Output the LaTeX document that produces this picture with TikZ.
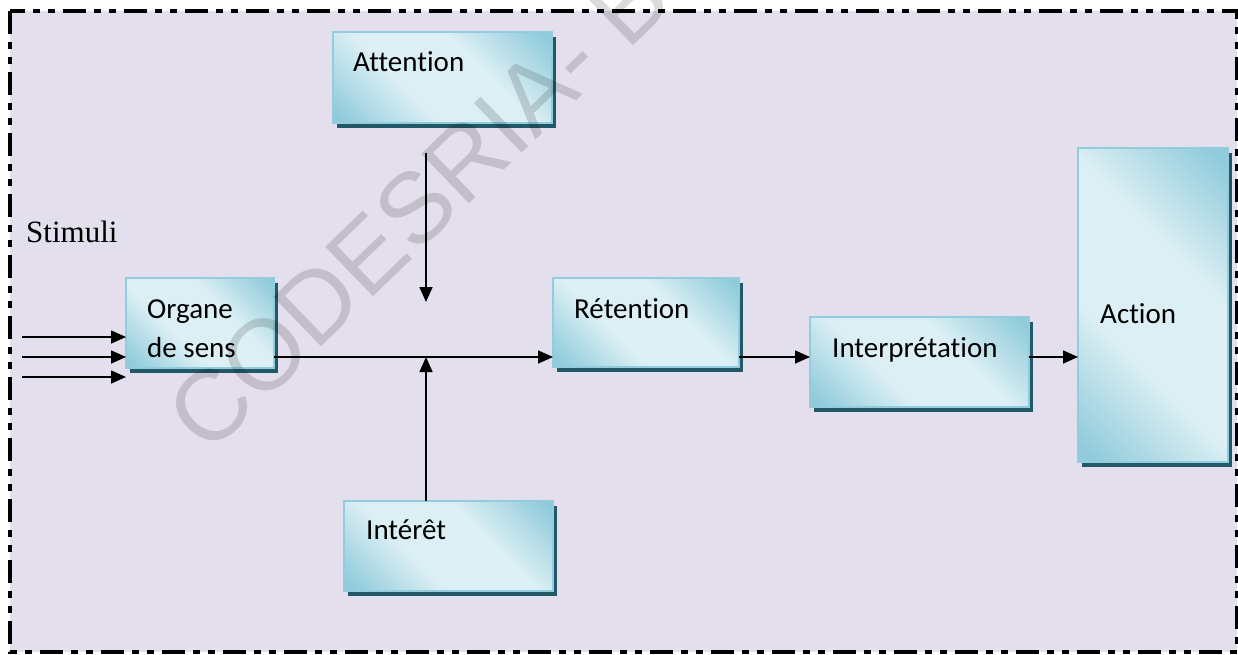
\documentclass[tikz,border=0pt]{standalone}
\usepackage{fontspec}
\setmainfont{Carlito}[Ligatures=NoCommon]
\newfontfamily\timesf{Liberation Serif}
\newfontfamily\arialf{Liberation Sans}
\usetikzlibrary{arrows.meta,shadows}
\definecolor{bgcol}{HTML}{E4DFEC}
\definecolor{boxlt}{HTML}{DCEFF4}
\definecolor{boxdk}{HTML}{8FCBDB}
\definecolor{boxedge}{HTML}{93CDDD}
\definecolor{shadowc}{HTML}{215968}
\pgfdeclareverticalshading{boxshade}{100bp}{color(0bp)=(boxdk); color(17bp)=(boxdk); color(39bp)=(boxlt); color(61bp)=(boxlt); color(83bp)=(boxdk); color(100bp)=(boxdk)}
\begin{document}
\begin{tikzpicture}[x=1pt,y=-1pt,
  box/.style={rectangle, anchor=north west, inner sep=0pt, outer sep=0pt,
    draw=boxedge, line width=2pt,
    shade, shading=boxshade, shading angle=-45,
    general shadow={fill=shadowc, shadow xshift=4pt, shadow yshift=-5pt}},
  lbl/.style={anchor=base west, inner sep=0pt, font=\fontsize{29}{35}\selectfont},
  arr/.style={line width=1.6pt, -{Triangle[length=15pt,width=13pt]}},
  frame/.style={line width=4pt, dash pattern=on 23pt off 8pt on 7pt off 8pt on 7pt off 8pt},
]
\useasboundingbox (0,0) rectangle (1238,654);
\fill[white] (0,0) rectangle (1238,654);
\fill[bgcol] (10,11) rectangle (1237,652);
\draw[frame] (10,11) rectangle (1237,652);

% boxes
\node[box, minimum width=219pt, minimum height=91pt] (att) at (333,32) {};
\node[box, minimum width=148pt, minimum height=90pt] (org) at (126,278) {};
\node[box, minimum width=186pt, minimum height=89pt] (ret) at (553,278) {};
\node[box, minimum width=219pt, minimum height=90pt] (itp) at (810,317) {};
\node[box, minimum width=150pt, minimum height=314pt] (act) at (1078,148) {};
\node[box, minimum width=209pt, minimum height=90pt] (ire) at (344,501) {};

% labels
\node[lbl] (attT) at (353,71) {Attention};
\node[lbl] (orgT1) at (147,318) {Organe};
\node[lbl] (orgT2) at (147,357) {de sens};
\node[lbl] (retT) at (574,318) {Rétention};
\node[lbl] (itpT) at (832,357) {Interprétation};
\node[lbl] (actT) at (1100,323) {Action};
\node[lbl] (ireT) at (366,539) {Intérêt};
\node[anchor=base west, inner sep=0pt, font=\timesf\fontsize{31}{36}\selectfont] (stim) at (26,242) {Stimuli};

% connectors
\coordinate (j) at (426,357);
\coordinate (s1) at (22,337);
\coordinate (s2) at (22,357);
\coordinate (s3) at (22,377);
\coordinate (a1) at (426,153);
\coordinate (a2) at (426,302);
\draw[arr] (s1) -- (s1 -| org.west);
\draw[arr] (s2) -- (s2 -| org.west);
\draw[arr] (s3) -- (s3 -| org.west);
\draw[arr] (org.east |- j) -- (ret.west |- j);
\draw[arr] (a1) -- (a2);
\draw[arr] (ire.north -| j) -- (j);
\draw[arr] (ret.east |- j) -- (itp.west |- j);
\draw[arr] (itp.east |- j) -- (act.west |- j);

% watermark
\node[rotate=44, inner sep=0pt, text=black, text opacity=0.14,
  font=\arialf\fontsize{100}{100}\selectfont] (wm) at (418,206) {CODESRIA- B};
\end{tikzpicture}
\end{document}
